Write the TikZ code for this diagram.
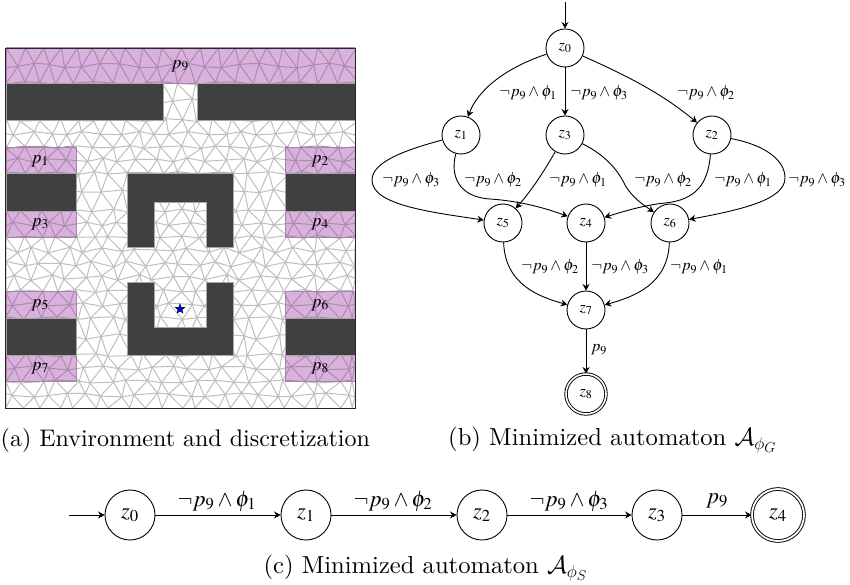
\documentclass[tikz,border=0pt]{standalone}
\usepackage{mathptmx}
\renewcommand{\rmdefault}{lmr}
\usepackage{xcolor}
\usetikzlibrary{arrows.meta,shapes.geometric}
\DeclareMathAlphabet{\cmmi}{OML}{lmm}{m}{it}
\DeclareMathAlphabet{\cmcal}{OMS}{lmsy}{m}{n}
\newcommand{\cmphi}{\cmmi{\mathchar"711E}}
\newcommand{\subcap}[1]{\mbox{\fontsize{15}{15}\selectfont$\cmmi{#1}$}}
\font\capfont="[lmroman10-regular.otf]" at 24.6pt
\font\capfontA="[lmroman10-regular.otf]" at 24pt
\definecolor{pinkreg}{HTML}{D8B2DC}
\definecolor{pinkline}{HTML}{B088B0}
\definecolor{meshgray}{HTML}{BEBEBE}
\definecolor{darkblk}{HTML}{404040}
\newcommand{\neglab}[1]{$\neg p_{9}\wedge\phi_{#1}$}
\newcommand{\meshlines}{%
  \foreach \j [evaluate=\j as \jm using int(\j-1), evaluate=\j as \jp using int(\j+1)] in {1,3,...,23}{%
    \foreach \i [evaluate=\i as \ii using int(\i+1)] in {0,...,20}{%
      \draw (m-\i-\jm) -- (m-\i-\j) (m-\i-\jm) -- (m-\ii-\j)
            (m-\i-\jp) -- (m-\i-\j) (m-\i-\jp) -- (m-\ii-\j)
            (m-\i-\j) -- (m-\ii-\j);
    }%
  }%
  \foreach \j in {0,2,...,24}{%
    \foreach \i [evaluate=\i as \ii using int(\i+1)] in {0,...,19}{%
      \draw (m-\i-\j) -- (m-\ii-\j);
    }%
  }%
}
\tikzset{
  state/.style={draw=black,circle,line width=0.9pt,minimum size=38pt,inner sep=0pt,font=\fontsize{16.3}{18}\selectfont},
  bigstate/.style={state,minimum size=50pt,font=\fontsize{22.5}{24}\selectfont},
  arr/.style={draw=black,line width=0.9pt,-{Stealth[length=6.5pt,width=7pt]}},
  elab/.style={inner sep=0pt,font=\fontsize{16.3}{18}\selectfont},
  biglab/.style={inner sep=0pt,font=\fontsize{22.5}{24}\selectfont},
  maplab/.style={inner sep=0pt,font=\fontsize{18}{20}\selectfont},
  capt/.style={inner sep=0pt,font=\fontsize{24.6}{28}\selectfont\capfont},
  obst/.style={fill=darkblk,draw=gray!70,line width=0.6pt},
}
\begin{document}
\begin{tikzpicture}[x=1pt,y=-1pt]
\useasboundingbox (0,0) rectangle (850,585);
% mesh points
\foreach \yy/\amp [count=\j from 0] in {48/0,65.5/2.5,83/1.5,101.5/3,120/1.5,133.5/2,147/1.5,160/2,173/1.5,191.5/3,210.5/1.5,224/2,237/1.5,250/3,264/3,277.5/3,291/1.5,304.5/2,318/1.5,336.5/3,355/1.5,368/2,381.5/1.5,395/2,408/0}{
  \pgfmathtruncatemacro\odd{mod(\j,2)}
  \foreach \i in {0,...,21}{
    \pgfmathsetmacro\xb{\odd==1 ? 6+(\i-0.5)*17.45 : 6+\i*17.45}
    \pgfmathsetmacro\xc{min(max(\xb,6),355)}
    \pgfmathsetmacro\jx{(\xc<=6 || \xc>=355) ? 0 : 3.2*sin(\i*37.5+\j*51.3+\i*\j*7)}
    \pgfmathsetmacro\jy{\amp*sin(\i*77.7+\j*73.1+\i*\j*9)}
    \coordinate (m-\i-\j) at (\xc+\jx,\yy+\jy);
  }
}
\begin{scope}[draw=meshgray,line width=1pt]
  \clip (5.5,48) rectangle (355.5,408);
  \meshlines
\end{scope}
% regions
\foreach \a/\b/\c/\d in {6/48/355/83,6/147/76/173,285/147/355/173,6/211/76/237,285/211/355/237,6/291/76/318,285/291/355/318,6/355/76/381.5,285/355/355/381.5}{
  \begin{scope}
    \clip (\a,\b) rectangle (\c,\d);
    \fill[pinkreg] (\a,\b) rectangle (\c,\d);
    \begin{scope}[draw=pinkline,line width=1pt]
      \meshlines
    \end{scope}
  \end{scope}
  \draw[pinkline!80!gray,line width=0.7pt] (\a,\b) rectangle (\c,\d);
}
% obstacles
\foreach \a/\b/\c/\d in {6/83/163/120,197/83/355/120,6/173/76/211,285/173/355/211,6/318/76/355,285/318/355/355}{
  \path[obst] (\a,\b) rectangle (\c,\d);
}
\path[obst] (127,247) -- (127,173) -- (233,173) -- (233,247) -- (206,247) -- (206,202) -- (154,202) -- (154,247) -- cycle;
\path[obst] (127,282) -- (127,355) -- (233,355) -- (233,282) -- (206,282) -- (206,327) -- (154,327) -- (154,282) -- cycle;
\draw[black!85,line width=0.9pt] (5.5,48) rectangle (355.5,408);
\node[star,star points=5,star point ratio=2.4,fill=blue,draw=black,line width=0.4pt,inner sep=0pt,minimum size=10pt] (robot) at (180,309) {};
% region labels
\node[maplab] (lp9) at (180,66) {$p_{9}$};
\node[maplab] (lp1) at (40,161) {$p_{1}$};
\node[maplab] (lp2) at (320,161) {$p_{2}$};
\node[maplab] (lp3) at (40,224) {$p_{3}$};
\node[maplab] (lp4) at (320,224) {$p_{4}$};
\node[maplab] (lp5) at (40,305) {$p_{5}$};
\node[maplab] (lp6) at (320,305) {$p_{6}$};
\node[maplab] (lp7) at (40,368) {$p_{7}$};
\node[maplab] (lp8) at (320,368) {$p_{8}$};
% automaton G
\coordinate (init) at (565,2);
\node[state] (z0) at (565,48) {$z_{0}$};
\node[state] (z1) at (461,135) {$z_{1}$};
\node[state] (z3) at (565,135) {$z_{3}$};
\node[state] (z2) at (712,135) {$z_{2}$};
\node[state] (z5) at (503,223) {$z_{5}$};
\node[state] (z4) at (586,223) {$z_{4}$};
\node[state] (z6) at (670,223) {$z_{6}$};
\node[state] (z7) at (586,310) {$z_{7}$};
\node[state,double,double distance=1.6pt,minimum size=40pt] (z8) at (586,394) {$z_{8}$};
\draw[arr] (init) -- (z0);
\draw[arr] (z0) .. controls (505,68) and (478,90) .. (z1);
\draw[arr] (z0) -- (z3);
\draw[arr] (z0) .. controls (625,75) and (660,92) .. (z2);
\draw[arr] (z1) .. controls (405,150) and (372,162) .. (372,180) .. controls (372,205) and (430,212) .. (z5);
\draw[arr] (z1) .. controls (450,175) and (458,197) .. (490,199) .. controls (520,201) and (545,208) .. (z4);
\draw[arr] (z3) .. controls (540,178) and (530,192) .. (z5);
\draw[arr] (z3) .. controls (605,155) and (618,170) .. (625,185) .. controls (632,197) and (642,204) .. (z6);
\draw[arr] (z2) .. controls (708,185) and (695,200) .. (665,203) .. controls (645,205) and (625,211) .. (z4);
\draw[arr] (z2) .. controls (765,145) and (785,160) .. (785,178) .. controls (785,200) and (740,210) .. (z6);
\draw[arr] (z5) .. controls (505,285) and (540,297) .. (z7);
\draw[arr] (z4) -- (z7);
\draw[arr] (z6) .. controls (668,285) and (633,297) .. (z7);
\draw[arr] (z7) -- (z8);
\node[elab] (e01) at (528,93) {\neglab{1}};
\node[elab] (e03) at (599,93) {\neglab{3}};
\node[elab] (e02) at (706,93) {\neglab{2}};
\node[elab] (e15) at (411,180) {\neglab{3}};
\node[elab] (e14) at (493,180) {\neglab{2}};
\node[elab] (e35) at (578,180) {\neglab{1}};
\node[elab] (e36) at (663,180) {\neglab{2}};
\node[elab] (e24) at (743,180) {\neglab{1}};
\node[elab] (e26) at (817,180) {\neglab{3}};
\node[elab] (e57) at (550,267) {\neglab{2}};
\node[elab] (e47) at (620,267) {\neglab{3}};
\node[elab] (e67) at (699,267) {\neglab{1}};
\node[elab] (e78) at (599,350) {$p_{9}$};
% automaton S
\coordinate (sinit) at (69,515);
\node[bigstate] (s0) at (130,515) {$z_{0}$};
\node[bigstate] (s1) at (306,515) {$z_{1}$};
\node[bigstate] (s2) at (482,515) {$z_{2}$};
\node[bigstate] (s3) at (657,515) {$z_{3}$};
\node[bigstate,double,double distance=1.8pt,minimum size=52pt] (s4) at (778,515) {$z_{4}$};
\draw[arr] (sinit) -- (s0);
\draw[arr] (s0) -- (s1);
\draw[arr] (s1) -- (s2);
\draw[arr] (s2) -- (s3);
\draw[arr] (s3) -- (s4);
\node[biglab] (l01) at (217,501) {\neglab{1}};
\node[biglab] (l12) at (393,501) {\neglab{2}};
\node[biglab] (l23) at (569,501) {\neglab{3}};
\node[biglab] (l34) at (717,501) {$p_{9}$};
% captions
\node[capt,anchor=west,font=\capfontA] (ca) at (0.5,440) {(a) Environment and discretization};
\node[capt,anchor=west] (cb) at (448,440) {(b) Minimized automaton $\cmcal{A}_{\cmphi_{\subcap{G}}}$};
\node[capt] (cc) at (425.5,568) {(c) Minimized automaton $\cmcal{A}_{\cmphi_{\subcap{S}}}$};
\end{tikzpicture}
\end{document}
